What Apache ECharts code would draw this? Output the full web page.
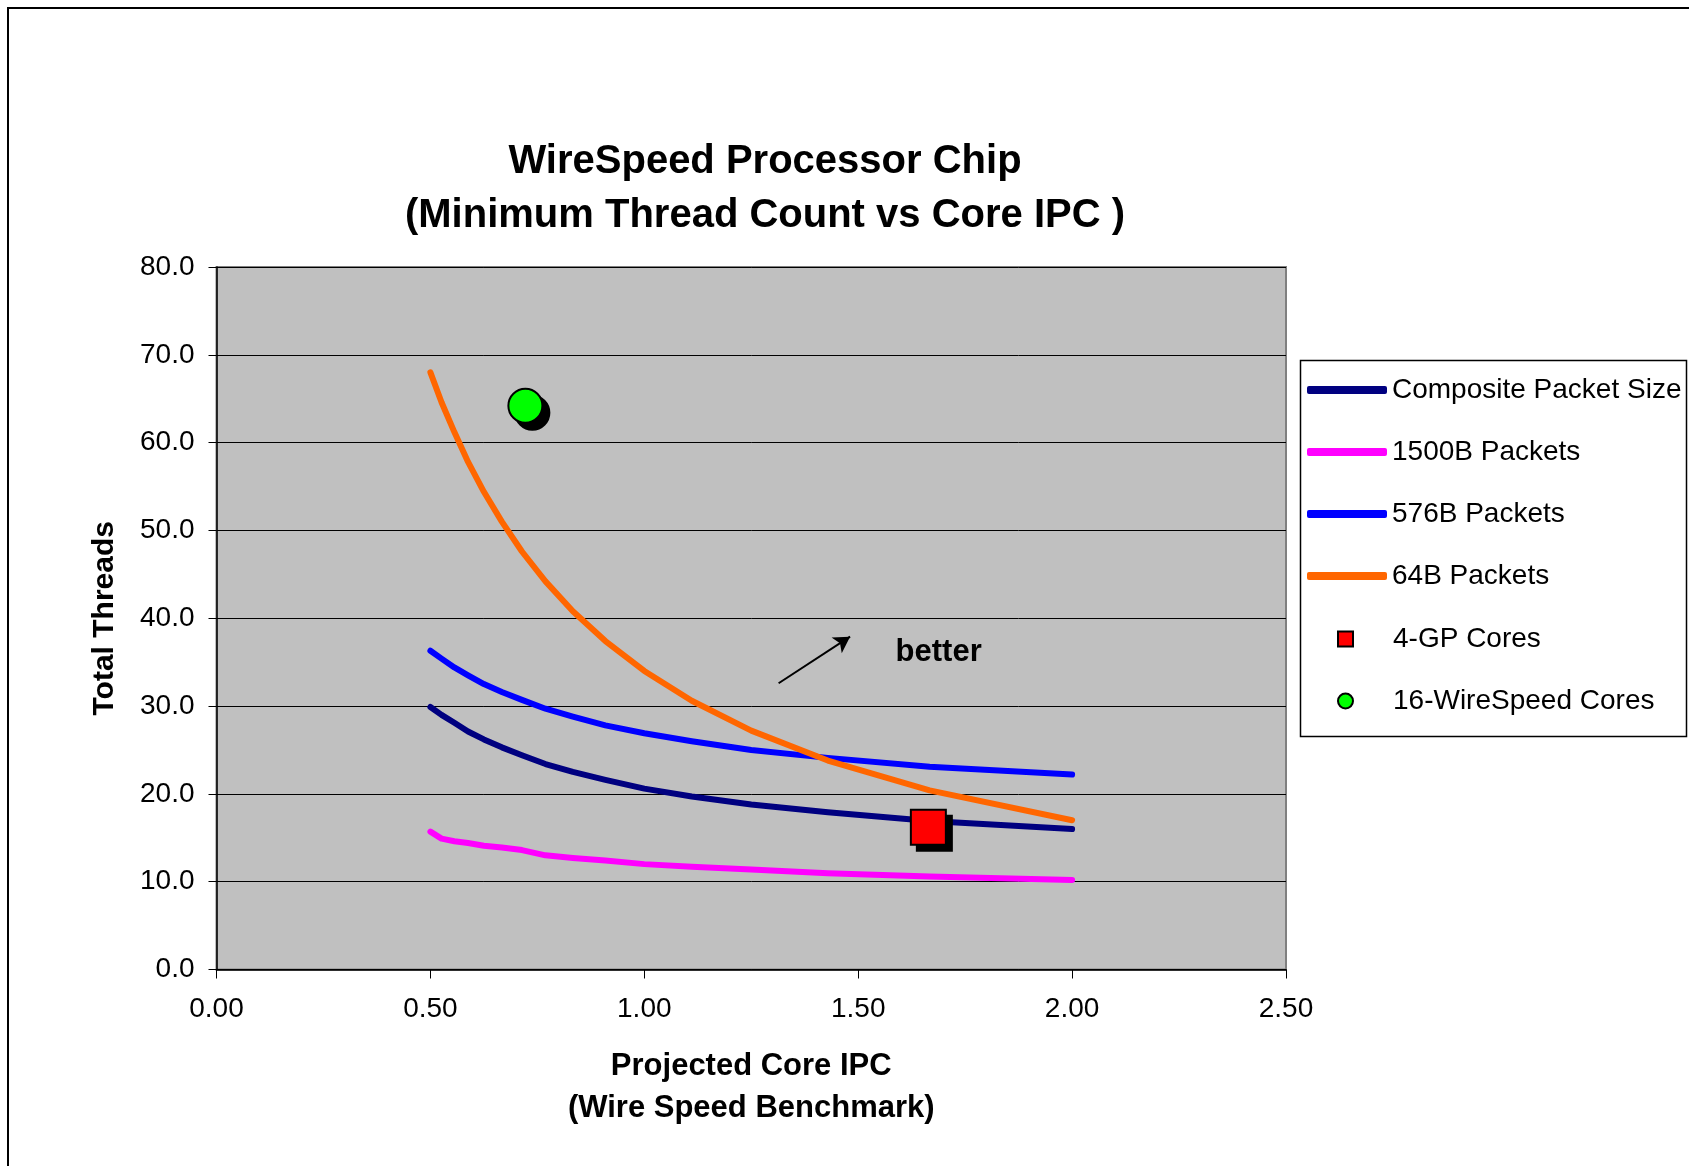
<!DOCTYPE html>
<html>
<head>
<meta charset="utf-8">
<script src="https://cdn.jsdelivr.net/npm/echarts@6/dist/echarts.min.js"></script>
<style>
html,body{margin:0;padding:0;background:#fff;}
#chart{width:1689px;height:1166px;}
</style>
</head>
<body>
<div id="chart"></div>
<script>
// Projected core IPC (x values)
var ipc = [0.500, 0.526, 0.556, 0.588, 0.625, 0.667, 0.714, 0.769, 0.833, 0.909, 1.000, 1.111, 1.250, 1.429, 1.667, 2.000];
// Total threads per series
var composite = [29.9, 29.0, 28.1, 27.1, 26.2, 25.3, 24.4, 23.4, 22.5, 21.6, 20.6, 19.7, 18.8, 17.9, 16.9, 16.0];
var p1500 = [15.7, 14.9, 14.6, 14.4, 14.1, 13.9, 13.6, 13.0, 12.7, 12.4, 12.0, 11.7, 11.4, 10.95, 10.6, 10.2];
var p576 = [36.3, 35.4, 34.4, 33.5, 32.5, 31.6, 30.7, 29.7, 28.8, 27.8, 26.9, 26.0, 25.0, 24.1, 23.1, 22.2];
var p64 = [68.0, 64.6, 61.2, 57.8, 54.4, 51.0, 47.6, 44.2, 40.8, 37.4, 34.0, 30.6, 27.2, 23.8, 20.4, 17.0];
// Single design points
var gpCores = [[1.664, 16.2]];
var wsCores = [[0.722, 64.2]];
// Annotation
var arrowFrom = [1.314, 32.6];
var arrowTo = [1.481, 37.9];
var betterAt = [1.688, 36.15];
var yTicks = [0, 80, 10];
var xTicks = [0, 2.5, 0.5];

function pairs(xs, ys){ return xs.map(function(x,i){ return [x, ys[i]]; }); }

var FONT = '"Liberation Sans", Arial, sans-serif';
var chart = echarts.init(document.getElementById('chart'), null, {renderer:'canvas'});

function lineSeries(name, data, color){
  return {
    name: name, type: 'line', data: pairs(ipc, data),
    symbol: 'none', smooth: false, silent: true,
    lineStyle: {color: color, width: 6, cap: 'round', join: 'round'},
    itemStyle: {color: color},
    emphasis: {disabled: true}
  };
}

var s64 = lineSeries('64B Packets', p64, '#FF6600');
s64.markLine = {
  silent: true, symbol: ['none', 'arrow'], symbolSize: [14, 16],
  label: {show: false},
  lineStyle: {color: '#000', width: 2, type: 'solid'},
  emphasis: {disabled: true},
  data: [[{coord: arrowFrom}, {coord: arrowTo}]]
};
s64.markPoint = {
  silent: true, symbol: 'rect', symbolSize: 1,
  itemStyle: {color: 'rgba(0,0,0,0)'},
  label: {show: true, position: 'inside', formatter: 'better', color: '#000',
          fontFamily: FONT, fontWeight: 'bold', fontSize: 31},
  data: [{coord: betterAt}]
};

function shadowSeries(data, symbol, size, off){
  return {
    name: 'shadow-' + symbol, type: 'scatter', data: data, symbol: symbol, symbolSize: size,
    symbolOffset: [off, off], silent: true, z: 4, emphasis: {disabled: true},
    itemStyle: {color: '#000', opacity: 1, borderColor: '#000', borderWidth: 2}
  };
}

var option = {
  backgroundColor: '#fff',
  animation: false,
  title: {
    text: 'WireSpeed Processor Chip\n(Minimum Thread Count vs Core IPC )',
    left: 760, top: 130, textAlign: 'center',
    textStyle: {fontFamily: FONT, fontWeight: 'bold', fontSize: 40, lineHeight: 54, color: '#000'}
  },
  graphic: [
    {type: 'rect', shape: {x: 8, y: 8, width: 1700, height: 1200}, style: {fill: 'none', stroke: '#000', lineWidth: 2}, silent: true},
    {type: 'rect', shape: {x: 1300.5, y: 360.5, width: 386, height: 376}, style: {fill: '#fff', stroke: '#000', lineWidth: 1.5}, silent: true, z: -1}
  ],
  legend: [
    {
      data: ['Composite Packet Size', '1500B Packets', '576B Packets', '64B Packets'],
      orient: 'vertical', left: 1307, top: 376, padding: 0, itemWidth: 80, itemHeight: 8, itemGap: 34,
      icon: 'roundRect',
      selectedMode: false,
      textStyle: {fontFamily: FONT, fontSize: 28, lineHeight: 28, color: '#000', padding: [0,0,0,0]}
    },
    {
      data: ['4-GP Cores', '16-WireSpeed Cores'],
      orient: 'vertical', left: 1337, top: 625, padding: 0, itemWidth: 15, itemHeight: 15, itemGap: 34,
      selectedMode: false,
      itemStyle: {opacity: 1, borderWidth: 2, borderColor: '#000'},
      textStyle: {fontFamily: FONT, fontSize: 28, lineHeight: 28, color: '#000', padding: [0,0,0,35]}
    }
  ],
  grid: {
    left: 216.5, top: 267, width: 1069.5, height: 702.5,
    show: true, backgroundColor: '#C0C0C0', borderColor: '#808080', borderWidth: 2,
    containLabel: false
  },
  xAxis: {
    type: 'value', min: xTicks[0], max: xTicks[1], interval: xTicks[2],
    name: 'Projected Core IPC\n(Wire Speed Benchmark)',
    nameLocation: 'middle', nameGap: 76,
    nameTextStyle: {fontFamily: FONT, fontWeight: 'bold', fontSize: 31, lineHeight: 42, color: '#000'},
    axisLine: {show: true, onZero: false, lineStyle: {color: '#000', width: 1.5}},
    axisTick: {show: true, inside: false, length: 9, lineStyle: {color: '#000', width: 1}},
    axisLabel: {margin: 26, fontFamily: FONT, fontSize: 28, color: '#000',
                formatter: function(v){ return v.toFixed(2); }},
    splitLine: {show: false}
  },
  yAxis: {
    type: 'value', min: yTicks[0], max: yTicks[1], interval: yTicks[2],
    name: 'Total Threads', nameLocation: 'middle', nameRotate: 90, nameGap: 97,
    nameTextStyle: {fontFamily: FONT, fontWeight: 'bold', fontSize: 30, color: '#000'},
    axisLine: {show: true, lineStyle: {color: '#000', width: 1.5}},
    axisTick: {show: true, inside: false, length: 8, lineStyle: {color: '#000', width: 1}},
    axisLabel: {margin: 22, fontFamily: FONT, fontSize: 28, color: '#000',
                formatter: function(v){ return v.toFixed(1); }},
    splitLine: {show: true, lineStyle: {color: '#000', width: 1}}
  },
  series: [
    lineSeries('Composite Packet Size', composite, '#000080'),
    lineSeries('1500B Packets', p1500, '#FF00FF'),
    lineSeries('576B Packets', p576, '#0000FF'),
    s64,
    shadowSeries(gpCores, 'rect', 35, 6),
    shadowSeries(wsCores, 'circle', 34, 7),
    {
      name: '4-GP Cores', type: 'scatter', data: gpCores, symbol: 'rect', symbolSize: 35, silent: true, z: 5,
      emphasis: {disabled: true},
      itemStyle: {color: '#FF0000', opacity: 1, borderColor: '#000', borderWidth: 2}
    },
    {
      name: '16-WireSpeed Cores', type: 'scatter', data: wsCores, symbol: 'circle', symbolSize: 34, silent: true, z: 5,
      emphasis: {disabled: true},
      itemStyle: {color: '#00FF00', opacity: 1, borderColor: '#000', borderWidth: 2}
    }
  ]
};
chart.setOption(option);
</script>
</body>
</html>
